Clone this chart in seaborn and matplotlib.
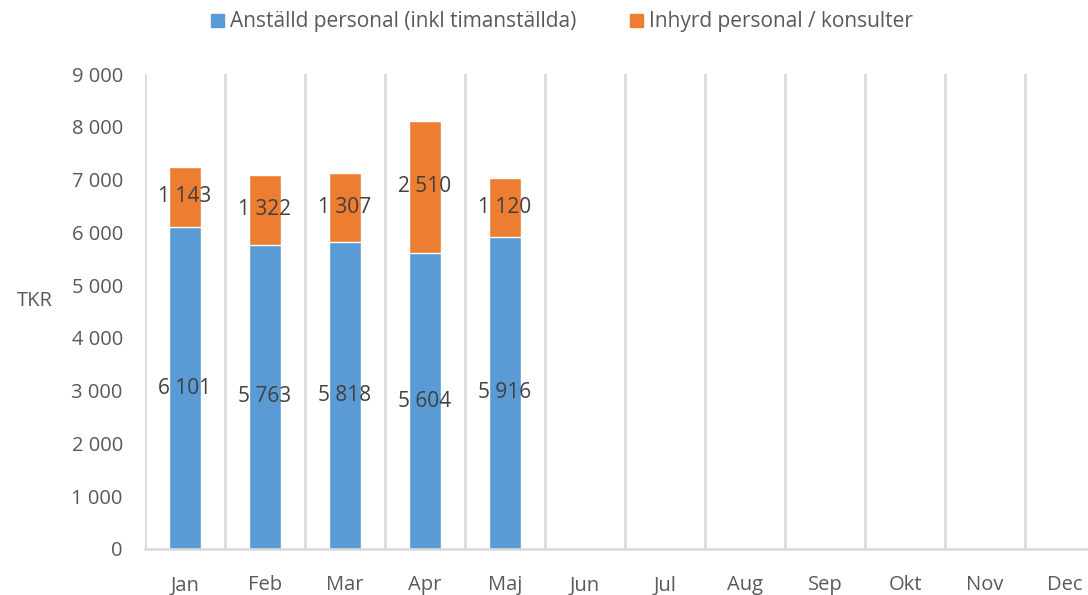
import numpy as np
import pandas as pd
import seaborn as sns
import matplotlib.pyplot as plt
from matplotlib.ticker import FuncFormatter, MultipleLocator
from matplotlib.patches import Patch

months = ["Jan", "Feb", "Mar", "Apr", "Maj", "Jun", "Jul", "Aug", "Sep", "Okt", "Nov", "Dec"]
anstalld = [6101, 5763, 5818, 5604, 5916]
inhyrd = [1143, 1322, 1307, 2510, 1120]
series_names = ["Anställd personal (inkl timanställda)", "Inhyrd personal / konsulter"]
colors = ["#5B9BD5", "#ED7D31"]

n = len(anstalld)
df = pd.DataFrame({
    "Month": months,
    "Anstalld": anstalld + [np.nan] * (len(months) - n),
    "Inhyrd": inhyrd + [np.nan] * (len(months) - n),
})
df["Total"] = df["Anstalld"] + df["Inhyrd"]

sns.set_style("white")
plt.rcParams["font.family"] = ["Open Sans", "DejaVu Sans"]

fig = plt.figure(figsize=(10.88, 5.95), dpi=100)
ax = fig.add_axes([145 / 1088, 46 / 595, (1088 - 145) / 1088, 475 / 595])

# stacked: draw total first, then the bottom part on top
sns.barplot(data=df, x="Month", y="Total", color=colors[1], width=0.41,
            saturation=1, ax=ax, order=months)
sns.barplot(data=df, x="Month", y="Anstalld", color=colors[0], width=0.41,
            saturation=1, ax=ax, order=months)

fmt = lambda v: f"{int(round(v)):,}".replace(",", " ")
for i in range(n):
    ax.text(i, anstalld[i] / 2, fmt(anstalld[i]), ha="center", va="center",
            fontsize=15, color="#404040")
    ax.text(i, anstalld[i] + inhyrd[i] / 2, fmt(inhyrd[i]), ha="center", va="center",
            fontsize=15, color="#404040")

ax.yaxis.set_major_locator(MultipleLocator(1000))
ax.yaxis.set_major_formatter(FuncFormatter(lambda v, p: fmt(v)))
ax.set_xticks(np.arange(-0.5, 11, 1), minor=True)
ax.set_ylim(0, 9000)
ax.set_xlim(-0.5, 11.5 - 17 / 80)
ax.grid(False)
ax.grid(True, axis="x", which="minor", color="#D9D9D9", linewidth=1.8)
ax.tick_params(axis="both", which="both", length=0, labelsize=14.5, labelcolor="#595959")
ax.tick_params(axis="x", pad=19)
ax.tick_params(axis="y", pad=16)
for s in ["top", "right", "left"]:
    ax.spines[s].set_visible(False)
ax.spines["bottom"].set_color("#D9D9D9")
ax.spines["bottom"].set_linewidth(1.8)
ax.set_xlabel("")
ax.set_ylabel("TKR", rotation=0, fontsize=14.5, color="#595959", labelpad=0)
ax.yaxis.set_label_coords(-110 / 943, 0.5)

handles = [Patch(color=c) for c in colors]
fig.legend(handles, series_names, loc="center", bbox_to_anchor=(562 / 1088, 1 - 22 / 595),
           ncol=2, frameon=False, fontsize=15, labelcolor="#595959",
           handlelength=0.6, handleheight=0.6, handletextpad=0.3, columnspacing=2.6)

fig.savefig("out.png", dpi=100)
